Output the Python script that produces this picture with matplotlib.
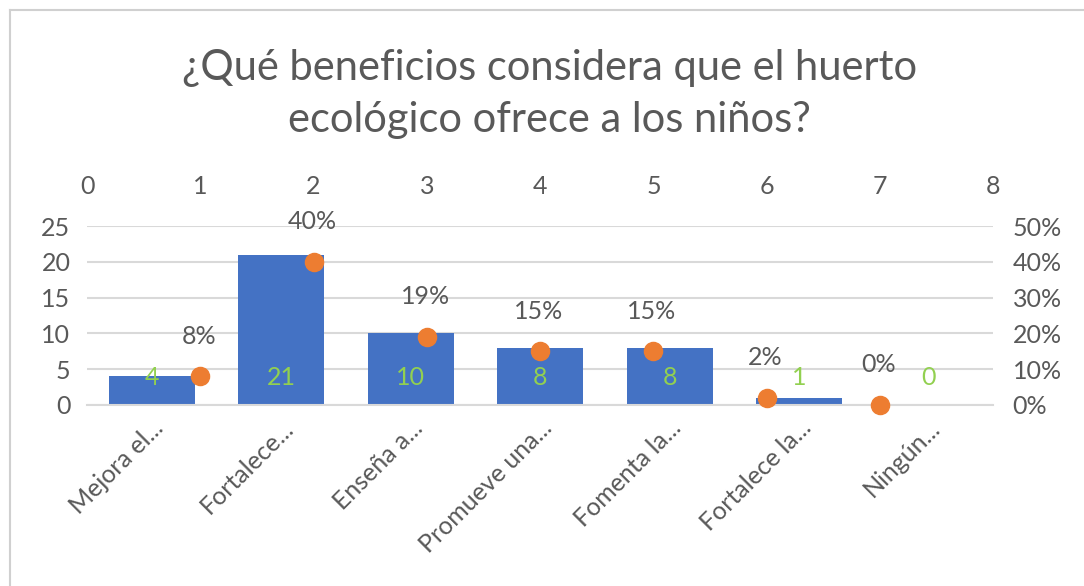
import matplotlib.pyplot as plt
from matplotlib.lines import Line2D

categories = ["Mejora el...", "Fortalece...", "Enseña a...", "Promueve una...",
              "Fomenta la...", "Fortalece la...", "Ningún..."]
counts = [4, 21, 10, 8, 8, 1, 0]
pct_x = [1, 2, 3, 4, 5, 6, 7]
pcts = [0.08, 0.40, 0.19, 0.15, 0.15, 0.02, 0.00]
pct_labels = ["8%", "40%", "19%", "15%", "15%", "2%", "0%"]

plt.rcParams['font.family'] = ['Lato', 'DejaVu Sans']
grey = '#595959'
gridc = '#d9d9d9'
fs = 18

fig = plt.figure(figsize=(10.84, 5.86), dpi=100)
# frame edges (left and top only visible in the reference)
fig.lines.append(Line2D([0.009, 0.009], [0, 0.983], transform=fig.transFigure,
                        color='#d0d0d0', linewidth=1.5))
fig.lines.append(Line2D([0.009, 1], [0.983, 0.983], transform=fig.transFigure,
                        color='#d0d0d0', linewidth=1.5))

pos = [0.0803, 0.309, 0.836, 0.305]
ax = fig.add_axes(pos)
x = list(range(len(categories)))
ax.bar(x, counts, width=0.665, color='#4472C4', zorder=2)
ax.set_xlim(-0.5, len(categories) - 0.5)
ax.set_ylim(0, 25)
ax.set_yticks(range(0, 26, 5))
ax.grid(axis='y', color=gridc, linewidth=1.5, zorder=0)
for s in ['top', 'right', 'left']:
    ax.spines[s].set_visible(False)
ax.spines['bottom'].set_color(gridc)
ax.spines['bottom'].set_linewidth(1.5)
ax.tick_params(length=0, colors=grey, labelsize=fs, pad=12)
ax.tick_params(axis='x', pad=8)
ax.set_xticks(x)
ax.set_xticklabels(categories, rotation=45, ha='right', rotation_mode='anchor')
for xi, c in zip(x, counts):
    ax.text(xi, 3.9, str(c), ha='center', va='center', color='#92D050', fontsize=fs, zorder=3)

ax3 = fig.add_axes(pos, frameon=False)
ax3.scatter(pct_x, pcts, s=170, color='#ED7D31', zorder=4, clip_on=False)
ax3.set_xlim(0, 8)
ax3.set_ylim(0, 0.5)
ax3.xaxis.tick_top()
ax3.yaxis.tick_right()
ax3.set_xticks(range(9))
ax3.set_yticks([0, 0.1, 0.2, 0.3, 0.4, 0.5])
ax3.set_yticklabels(["0%", "10%", "20%", "30%", "40%", "50%"])
ax3.tick_params(length=0, colors=grey, labelsize=fs, pad=14)
ax3.tick_params(axis='x', pad=20)
for xi, p, lab in zip(pct_x, pcts, pct_labels):
    ax3.annotate(lab, (xi, p), xytext=(-1, 29), textcoords='offset points',
                 ha='center', va='center', color=grey, fontsize=fs)

fig.text(0.507, 0.84, "¿Qué beneficios considera que el huerto\necológico ofrece a los niños?",
         ha='center', va='center', color=grey, fontsize=30, linespacing=1.45)

fig.savefig('out.png', dpi=100)
